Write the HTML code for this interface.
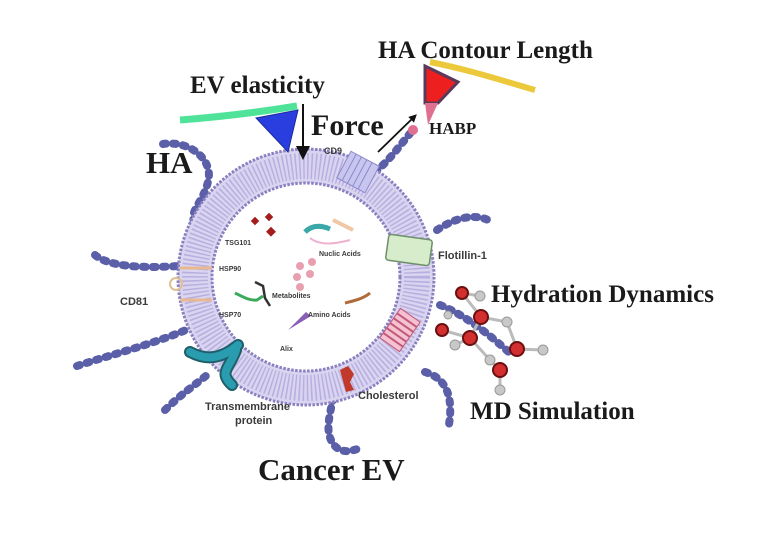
<!DOCTYPE html>
<html><head><meta charset="utf-8"><style>
html,body{margin:0;padding:0;background:#fff;}
svg{display:block;}
.serif{font-family:"Liberation Serif",serif;fill:#1a1a1a;}
.sans{font-family:"Liberation Sans",sans-serif;font-weight:bold;fill:#3a3a3a;}
.ha{fill:none;stroke:#5a5fa8;stroke-width:8;stroke-linecap:round;stroke-dasharray:3 7;}
</style></head><body>
<svg width="780" height="535" viewBox="0 0 780 535" xmlns="http://www.w3.org/2000/svg">
<defs>
<marker id="ah" markerWidth="8" markerHeight="8" refX="4" refY="4" orient="auto" markerUnits="userSpaceOnUse"><path d="M0,0 L8,4 L0,8 Z" fill="#111"/></marker>
</defs>
<!-- HA chains -->
<path class="ha" d="M163,144 C190,140 214,160 208,182 S190,210 194,222"/>
<path class="ha" d="M95,255 C110,268 150,268 178,266"/>
<path class="ha" d="M77,366 C110,355 150,345 186,330"/>
<path class="ha" d="M165,410 C180,395 195,385 207,375"/>
<path class="ha" d="M333,398 C330,415 325,430 332,442 S350,452 360,448"/>
<path class="ha" d="M425,372 C445,378 455,395 448,430"/>
<path class="ha" d="M437,230 C455,218 475,212 492,222"/>
<path class="ha" d="M375,172 C390,160 400,145 413,130"/>
<path class="ha" d="M440,305 C465,315 490,335 512,355"/>
<!-- membrane -->
<circle cx="306" cy="277" r="111" fill="none" stroke="#d9d4ef" stroke-width="34"/>
<circle cx="306" cy="277" r="111" fill="none" stroke="#b8afe0" stroke-width="26" stroke-dasharray="1.5 2.5"/>
<circle cx="306" cy="277" r="128" fill="none" stroke="#8a80c0" stroke-width="3" stroke-dasharray="2.5 1.5"/>
<circle cx="306" cy="277" r="94" fill="none" stroke="#8a80c0" stroke-width="3" stroke-dasharray="2.5 1.5"/>
<!-- CD9 -->
<g transform="rotate(28 358 172)"><rect x="342" y="157" width="32" height="30" fill="#c8c6ee" stroke="#8a88cc"/><path d="M348,157v30M354,157v30M360,157v30M366,157v30" stroke="#8a88cc"/></g>
<!-- Flotillin -->
<rect x="387" y="237" width="44" height="26" rx="3" fill="#d6eccb" stroke="#6d8f6a" stroke-width="1.5" transform="rotate(8 409 250)"/>
<!-- pink TM -->
<g transform="rotate(-55 400 330)"><rect x="382" y="318" width="36" height="24" fill="#f4c2d0" stroke="#c4587a"/><path d="M388,318v24M394,318v24M400,318v24M406,318v24M412,318v24" stroke="#c4587a" stroke-width="2"/></g>
<!-- CD81 -->
<path d="M180,268h32M180,300h32" stroke="#e8b890" stroke-width="3"/>
<circle cx="176" cy="284" r="6" fill="none" stroke="#e0c090" stroke-width="2"/>
<!-- transmembrane protein -->
<path d="M190,352 C205,360 220,360 238,345 M236,350 C230,368 218,372 232,385" fill="none" stroke="#1f5f6a" stroke-width="12" stroke-linecap="round"/>
<path d="M190,352 C205,360 220,360 238,345 M236,350 C230,368 218,372 232,385" fill="none" stroke="#2a9cb0" stroke-width="8" stroke-linecap="round"/>
<!-- cholesterol -->
<path d="M340,370 l8,-4 l6,8 l-4,8 l4,8 l-8,2 z" fill="#c0392b"/>
<!-- interior -->
<g fill="#a51c1c"><rect x="252" y="218" width="6" height="6" transform="rotate(45 255 221)"/><rect x="266" y="214" width="6" height="6" transform="rotate(45 269 217)"/><rect x="268" y="228" width="7" height="7" transform="rotate(45 271 231)"/></g>
<path d="M305,232 c8,-8 18,-6 25,-3" stroke="#3aa8a8" stroke-width="5" fill="none"/>
<path d="M310,238 c10,8 25,6 40,2" stroke="#f0b0d0" stroke-width="2" fill="none"/>
<path d="M333,220 l20,10" stroke="#f0c8a8" stroke-width="4"/>
<g fill="#e8a0b0"><circle cx="300" cy="266" r="4"/><circle cx="312" cy="262" r="4"/><circle cx="297" cy="277" r="4"/><circle cx="310" cy="274" r="4"/><circle cx="300" cy="287" r="4"/></g>
<path d="M255,282 l8,4 l2,12 l5,8" stroke="#333" stroke-width="2.5" fill="none"/>
<path d="M235,293 c8,4 15,8 22,7 l6,-4" stroke="#3aaa5a" stroke-width="3" fill="none"/>
<path d="M345,303 c8,-2 18,-4 25,-10" stroke="#b06a3a" stroke-width="3" fill="none"/>
<path d="M288,330 l18,-18 l5,4 z" fill="#8a5fb8"/>
<!-- force arrow -->
<path d="M180,120 C220,117 260,112 297,106" stroke="#4fe39a" stroke-width="7" fill="none"/>
<path d="M256,118 L298,110 L288,152 Z" fill="#2a3ee0" stroke="#1b2a9a" stroke-width="1"/>
<line x1="303" y1="104" x2="303" y2="150" stroke="#111" stroke-width="2"/>
<path d="M296,146 L303,160 L310,146 Z" fill="#111"/>
<line x1="378" y1="152" x2="414" y2="117" stroke="#111" stroke-width="1.8" marker-end="url(#ah)"/>
<!-- HABP -->
<path d="M430,62 C470,70 500,80 535,90" stroke="#ecc93a" stroke-width="6" fill="none"/>
<path d="M425,66 L458,82 L438,103 L425,103 Z" fill="#ee1f1f" stroke="#5a3a5a" stroke-width="3"/>
<path d="M425,103 L438,103 L428,125 Z" fill="#e07090"/>
<circle cx="413" cy="130" r="5" fill="#e07090"/>
<!-- molecules -->
<g stroke="#bbb" stroke-width="3" fill="none"><path d="M462,293 L481,317 L470,338 L442,330 M481,317 L507,322 M470,338 L455,345 M470,338 L490,360 L500,370 L500,390 M517,349 L543,350 M480,296 L462,293 M517,349 L507,322"/></g>
<g fill="#c8c8c8" stroke="#999"><circle cx="480" cy="296" r="5"/><circle cx="507" cy="322" r="5"/><circle cx="490" cy="360" r="5"/><circle cx="543" cy="350" r="5"/><circle cx="500" cy="390" r="5"/><circle cx="455" cy="345" r="5"/><circle cx="448" cy="315" r="4"/></g>
<g fill="#d32f2f" stroke="#6a1010" stroke-width="2"><circle cx="462" cy="293" r="6"/><circle cx="481" cy="317" r="7"/><circle cx="442" cy="330" r="6"/><circle cx="470" cy="338" r="7"/><circle cx="517" cy="349" r="7"/><circle cx="500" cy="370" r="7"/></g>
<!-- text -->
<text class="serif" x="378" y="58" font-size="25" font-weight="bold">HA Contour Length</text>
<text class="serif" x="190" y="93" font-size="25" font-weight="bold">EV elasticity</text>
<text class="serif" x="311" y="135" font-size="30" font-weight="bold">Force</text>
<text class="serif" x="429" y="134" font-size="17" font-weight="bold">HABP</text>
<text class="serif" x="146" y="173" font-size="31" font-weight="bold">HA</text>
<text class="serif" x="491" y="302" font-size="25" font-weight="bold">Hydration Dynamics</text>
<text class="serif" x="470" y="419" font-size="25" font-weight="bold">MD Simulation</text>
<text class="serif" x="258" y="480" font-size="31" font-weight="bold">Cancer  EV</text>
<text class="sans" x="324" y="154" font-size="9">CD9</text>
<text class="sans" x="120" y="305" font-size="11">CD81</text>
<text class="sans" x="438" y="259" font-size="11">Flotillin-1</text>
<text class="sans" x="358" y="399" font-size="11">Cholesterol</text>
<text class="sans" x="205" y="410" font-size="11">Transmembrane</text>
<text class="sans" x="235" y="424" font-size="11">protein</text>
<text class="sans" x="225" y="245" font-size="7">TSG101</text>
<text class="sans" x="319" y="256" font-size="7">Nuclic Acids</text>
<text class="sans" x="219" y="271" font-size="7">HSP90</text>
<text class="sans" x="272" y="298" font-size="7">Metabolites</text>
<text class="sans" x="219" y="317" font-size="7">HSP70</text>
<text class="sans" x="308" y="317" font-size="7">Amino Acids</text>
<text class="sans" x="280" y="351" font-size="7">Alix</text>
</svg>
</body></html>
